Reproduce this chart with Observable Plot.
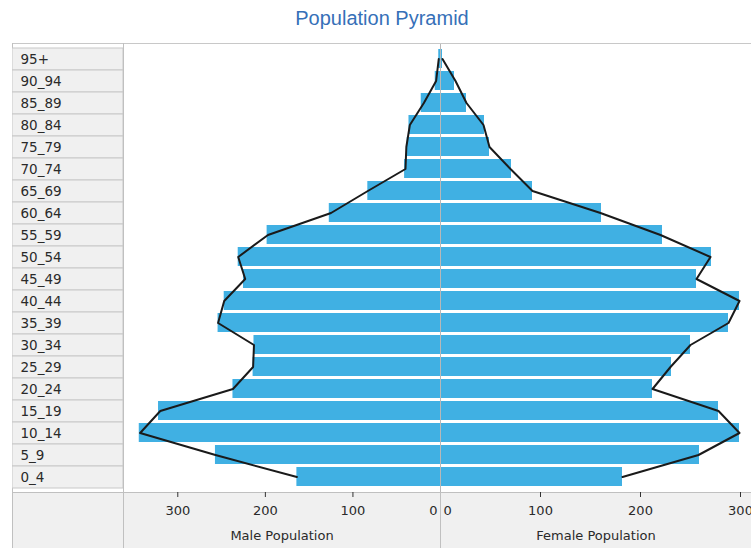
<!DOCTYPE html>
<html>
<head>
<meta charset="utf-8">
<script src="https://cdn.jsdelivr.net/npm/d3@7"></script>
<script src="https://cdn.jsdelivr.net/npm/@observablehq/plot@0.6"></script>
<style>
  html, body { margin: 0; padding: 0; background: #fff; }
  #wrap { position: relative; width: 751px; height: 548px; overflow: hidden; background: #fff; font-family: "DejaVu Sans", sans-serif; }
  #title { position: absolute; left: 0; top: 7px; width: 764px; text-align: center; font-family: "Liberation Sans", Arial, sans-serif; font-size: 20px; color: #3670b8; }
  .abs { position: absolute; }
  svg { background: transparent !important; }
</style>
</head>
<body>
<div id="wrap">
  <div id="title">Population Pyramid</div>
  <div class="abs" style="left:12px;top:492px;width:739px;height:56px;background:#f0f0f0;"></div>
  <div class="abs" style="left:12px;top:43px;width:739px;height:1px;background:#c8c8c8;"></div>
  <div class="abs" style="left:12px;top:492px;width:739px;height:1px;background:#c0c0c0;"></div>
  <div class="abs" style="left:12px;top:43px;width:1px;height:505px;background:#c0c0c0;"></div>
  <div class="abs" style="left:123px;top:43px;width:1px;height:505px;background:#c0c0c0;"></div>
  <div class="abs" style="left:440px;top:492px;width:1px;height:56px;background:#c0c0c0;"></div>
  <div id="labels" class="abs" style="left:12px;top:44px;"></div>
  <div id="male" class="abs" style="left:123px;top:44px;"></div>
  <div id="female" class="abs" style="left:440px;top:44px;"></div>
</div>
<script>
const ages = ["95+","90_94","85_89","80_84","75_79","70_74","65_69","60_64","55_59","50_54","45_49","40_44","35_39","30_34","25_29","20_24","15_19","10_14","5_9","0_4"];
const maleBars   = [2, 6, 22, 36, 38, 41, 83, 127, 198, 231, 225, 247, 254, 213, 214, 237, 322, 344, 257, 164];
const femaleBars = [2, 14, 26, 44, 49, 71, 92, 161, 222, 271, 256, 299, 288, 250, 231, 212, 278, 299, 259, 182];
const maleLine   = [2, 5, 19, 35, 39, 40, 83, 125, 197, 231, 223, 247, 254, 213, 214, 237, 320, 343, 257, 164];
const femaleLine = [2, 15, 26, 43, 49, 70, 92, 160, 220, 270, 256, 299, 288, 250, 230, 212, 278, 299, 258, 182];
const maleTicks = [0, 100, 200, 300];
const femaleTicks = [0, 100, 200, 300];
const maleLabel = "Male Population";
const femaleLabel = "Female Population";

const rows = ages.map((a, i) => ({age: a, male: maleBars[i], female: femaleBars[i], maleL: maleLine[i], femaleL: femaleLine[i]}));
const barColor = "#40b0e3";
const font = {fontFamily: "DejaVu Sans, sans-serif", fontSize: "13px", background: "transparent", color: "#333"};

// label column
const labelsPlot = Plot.plot({
  width: 111, height: 448, margin: 0,
  x: {domain: [0, 1], axis: null},
  y: {domain: ages, padding: 0, axis: null},
  style: font,
  marks: [
    Plot.barX(ages, {x1: 0, x2: 1, y: d => d, fill: "#f0f0f0", stroke: "#c8c8c8", strokeWidth: 1}),
    Plot.text(ages, {y: d => d, text: d => d, frameAnchor: "left", dx: 8, textAnchor: "start", fill: "#2a2a2a", fontSize: 13.5})
  ]
});
document.getElementById("labels").append(labelsPlot);

// male side
const malePlot = Plot.plot({
  width: 317, height: 504, marginLeft: 0, marginRight: 0, marginTop: 0, marginBottom: 56,
  x: {domain: [0, 362], reverse: true},
  y: {domain: ages, padding: 0.13, axis: null},
  style: font,
  marks: [
    Plot.barX(rows, {x: "male", y: "age", fill: barColor}),
    Plot.line(rows, {x: "maleL", y: "age", stroke: "#1a1a1a", strokeWidth: 2}),
    Plot.axisX({ticks: maleTicks.filter(t => t !== 0), tickSize: 5, tickPadding: 8, label: maleLabel, labelAnchor: "center", labelArrow: "none", labelOffset: 47, fill: "#2a2a2a"}),
    Plot.axisX({ticks: maleTicks.filter(t => t === 0), tickSize: 0, tickPadding: 13, textAnchor: "end", dx: -3, label: null, fill: "#2a2a2a"})
  ]
});
document.getElementById("male").append(malePlot);

// female side
const femalePlot = Plot.plot({
  width: 311, height: 504, marginLeft: 0, marginRight: 0, marginTop: 0, marginBottom: 56,
  x: {domain: [0, 311]},
  y: {domain: ages, padding: 0.13, axis: null},
  style: font,
  marks: [
    Plot.barX(rows, {x: "female", y: "age", fill: barColor}),
    Plot.ruleX([0], {stroke: "#b8b8b8", strokeWidth: 1}),
    Plot.line(rows, {x: "femaleL", y: "age", stroke: "#1a1a1a", strokeWidth: 2}),
    Plot.axisX({ticks: femaleTicks.filter(t => t !== 0), tickSize: 5, tickPadding: 8, label: femaleLabel, labelAnchor: "center", labelArrow: "none", labelOffset: 47, fill: "#2a2a2a"}),
    Plot.axisX({ticks: femaleTicks.filter(t => t === 0), tickSize: 0, tickPadding: 13, textAnchor: "start", dx: 3, label: null, fill: "#2a2a2a"})
  ]
});
document.getElementById("female").append(femalePlot);
</script>
</body>
</html>
